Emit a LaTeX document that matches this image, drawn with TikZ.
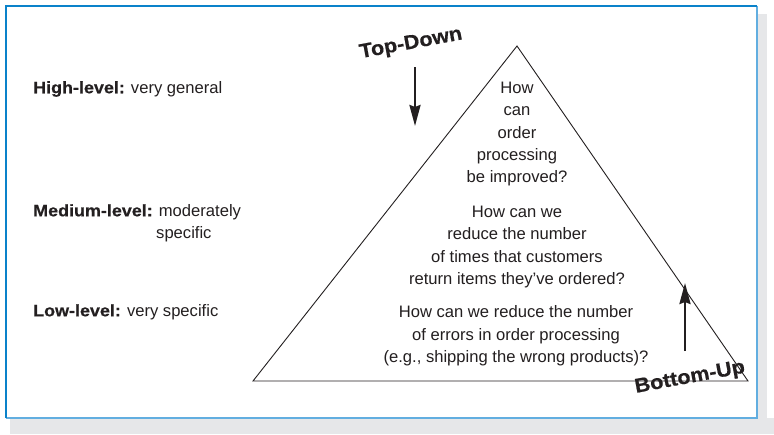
\documentclass[tikz,border=0pt]{standalone}
\usepackage{fontspec}
\setmainfont{Liberation Sans}[BoldFeatures={FakeStretch=1.08,FakeBold=0.5}]
\usetikzlibrary{arrows.meta}
\definecolor{frameblue}{HTML}{0A82CA}
\definecolor{framelight}{HTML}{62AEE0}
\definecolor{shadow}{HTML}{E6E7E9}
\definecolor{ink}{HTML}{231F20}
\tikzset{
  lbl/.style={font=\fontsize{16.6}{22.3}\selectfont, text=ink, inner sep=0pt, anchor=west},
  qtext/.style={font=\fontsize{16.6}{22.3}\selectfont, text=ink, inner sep=0pt, align=center, anchor=north},
  dirlbl/.style={font=\fontsize{20}{24}\selectfont\bfseries, text=ink, inner sep=0pt, rotate=10.5},
  dirarrow/.style={line width=2.5pt, draw=ink, -{Stealth[length=21pt,width=11pt,inset=2pt]}},
  tri/.style={draw=ink, line width=0.9pt, line join=miter}
}
\begin{document}
\begin{tikzpicture}[x=1pt,y=-1pt]
\useasboundingbox (0,0) rectangle (774,434);
% shadow
\fill[shadow] (10,418) rectangle (774,434);
\fill[shadow] (757,14) rectangle (767,434);
% frame
\fill[white] (6,6) rectangle (757,418);
\draw[framelight, line width=1.6pt] (757,6) -- (757,418) -- (6,418);
\draw[frameblue, line width=1.6pt] (6,418) -- (6,6) -- (757,6);
% triangle
\coordinate (apex) at (517,46);
\coordinate (bl) at (253,381);
\coordinate (br) at (748,381);
\draw[tri] (apex) -- (bl) -- (br) -- cycle;
% left labels
\node[lbl] (high) at (33,89) {\textbf{High-level:} very general};
\node[lbl] (med) at (33,212) {\textbf{Medium-level:} moderately};
\node[lbl] (med2) at (156,234) {specific};
\node[lbl] (low) at (33,312) {\textbf{Low-level:} very specific};
% questions
\node[qtext] (q1) at (517,82) {How\\can\\order\\processing\\be improved?};
\node[qtext] (q2) at (517,206) {How can we\\reduce the number\\of times that customers\\return items they’ve ordered?};
\node[qtext] (q3) at (516,305.5) {How can we reduce the number\\of errors in order processing\\(e.g., shipping the wrong products)?};
% directions
\node[dirlbl] (td) at (411,44) {Top-Down};
\coordinate (tdA) at (415,67);
\coordinate (tdB) at (415,126);
\draw[dirarrow] (tdA) -- (tdB);
\node[dirlbl] (bu) at (690,378) {Bottom-Up};
\coordinate (buA) at (685,351);
\coordinate (buB) at (685,283);
\draw[dirarrow] (buA) -- (buB);
\end{tikzpicture}
\end{document}
